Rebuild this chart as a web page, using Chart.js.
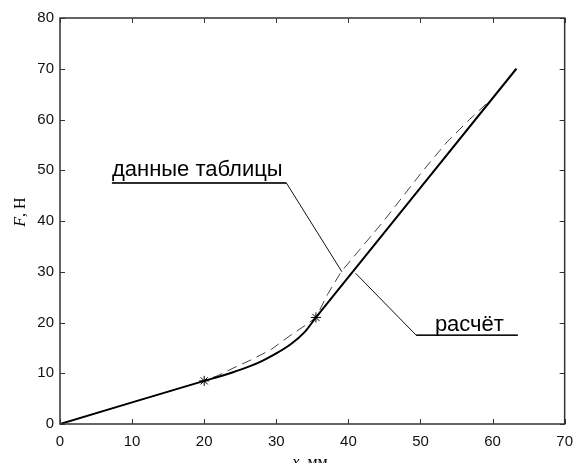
<!DOCTYPE html>
<html>
<head>
<meta charset="utf-8">
<script src="https://cdn.jsdelivr.net/npm/chart.js@4.4.0/dist/chart.umd.min.js"></script>
<style>
  html, body { margin: 0; padding: 0; background: #fff; }
  #wrap { width: 582px; height: 463px; position: relative; }
</style>
</head>
<body>
<div id="wrap"><canvas id="c" width="582" height="463"></canvas></div>
<script>
// ---- data ----
const xTicks = [0, 10, 20, 30, 40, 50, 60, 70];
const yTicks = [0, 10, 20, 30, 40, 50, 60, 70, 80];

// calculation (solid line, "расчёт")
const calcX = [0, 20, 22, 24, 26, 28, 30, 32, 34, 35.5, 63.3];
const calcY = [0, 8.5, 9.3, 10.2, 11.2, 12.4, 13.9, 15.7, 18.2, 21, 70];

// table data (dashed line, "данные таблицы")
const tableX = [0, 20, 22, 24, 26.6, 29.2, 31.8, 34.2, 35.5, 37.1, 39.0, 44.9, 50.4, 53.7, 56.8, 60.2, 63.3];
const tableY = [0, 8.5, 9.6, 11.0, 12.7, 14.6, 17.3, 19.6, 21, 25.5, 30, 40, 50, 55.6, 60, 64.5, 70];

// marked points (asterisks)
const markX = [20, 35.5];
const markY = [8.5, 21];

// annotation labels & leader lines (data coordinates)
const labelTable = "данные таблицы";
const labelCalc = "расчёт";
const leaderTable = [[7.2, 47.5], [31.4, 47.5], [39.1, 30.0]];
const leaderCalc = [[41.0, 29.7], [49.4, 17.5], [63.5, 17.5]];
const labelTablePos = [7.2, 48.8];
const labelCalcPos = [52.0, 18.3];

const yTitleItalic = "F";
const yTitleRest = ", Н";
const xTitleItalic = "x";
const xTitleRest = ", мм";

const toPts = (xs, ys) => xs.map((x, i) => ({ x: x, y: ys[i] }));

const framePlugin = {
  id: 'frame',
  afterDraw(chart) {
    const ctx = chart.ctx;
    const a = chart.chartArea;
    const sx = chart.scales.x, sy = chart.scales.y;
    ctx.save();
    // frame
    ctx.strokeStyle = '#333';
    ctx.lineWidth = 1.5;
    ctx.strokeRect(a.left, a.top, a.right - a.left, a.bottom - a.top);
    // inward ticks
    ctx.lineWidth = 1;
    ctx.beginPath();
    const tl = 5;
    xTicks.forEach(v => {
      const p = Math.round(sx.getPixelForValue(v)) + 0.5;
      ctx.moveTo(p, a.bottom); ctx.lineTo(p, a.bottom - tl);
      ctx.moveTo(p, a.top); ctx.lineTo(p, a.top + tl);
    });
    yTicks.forEach(v => {
      const p = Math.round(sy.getPixelForValue(v)) + 0.5;
      ctx.moveTo(a.left, p); ctx.lineTo(a.left + tl, p);
      ctx.moveTo(a.right, p); ctx.lineTo(a.right - tl, p);
    });
    ctx.stroke();

    // leader lines
    const px = pt => [sx.getPixelForValue(pt[0]), sy.getPixelForValue(pt[1])];
    ctx.strokeStyle = '#111';
    ctx.lineWidth = 1;
    [leaderTable, leaderCalc].forEach(path => {
      ctx.beginPath();
      path.forEach((pt, i) => {
        const [x, y] = px(pt);
        if (i === 0) ctx.moveTo(x, y); else ctx.lineTo(x, y);
      });
      ctx.stroke();
    });
    // underlines slightly thicker
    ctx.lineWidth = 1.6;
    ctx.beginPath();
    let p0 = px(leaderTable[0]), p1 = px(leaderTable[1]);
    ctx.moveTo(p0[0], p0[1]); ctx.lineTo(p1[0], p1[1]);
    p0 = px(leaderCalc[1]); p1 = px(leaderCalc[2]);
    ctx.moveTo(p0[0], p0[1]); ctx.lineTo(p1[0], p1[1]);
    ctx.stroke();

    // annotation text
    ctx.fillStyle = '#000';
    ctx.font = '22px "Liberation Sans", Arial, sans-serif';
    ctx.textBaseline = 'alphabetic';
    ctx.textAlign = 'left';
    let t = px(labelTablePos);
    ctx.fillText(labelTable, t[0], t[1]);
    t = px(labelCalcPos);
    ctx.fillText(labelCalc, t[0], t[1]);

    // axis titles
    const fs = 16;
    const fIt = 'italic ' + fs + 'px "Liberation Serif", serif';
    const fRg = fs + 'px "Liberation Serif", serif';
    ctx.save();
    ctx.translate(25, (a.top + a.bottom) / 2 - 9);
    ctx.rotate(-Math.PI / 2);
    ctx.textBaseline = 'alphabetic';
    ctx.font = fIt;
    const w1 = ctx.measureText(yTitleItalic).width;
    ctx.font = fRg;
    const w2 = ctx.measureText(yTitleRest).width;
    let start = -(w1 + w2) / 2;
    ctx.font = fIt;
    ctx.fillText(yTitleItalic, start, 0);
    ctx.font = fRg;
    ctx.fillText(yTitleRest, start + w1, 0);
    ctx.restore();
    // x title
    ctx.font = fIt;
    const xw1 = ctx.measureText(xTitleItalic).width;
    ctx.font = fRg;
    const xw2 = ctx.measureText(xTitleRest).width;
    const cx = 310;
    start = cx - (xw1 + xw2) / 2;
    ctx.textBaseline = 'alphabetic';
    ctx.font = fIt;
    ctx.fillText(xTitleItalic, start, 467);
    ctx.font = fRg;
    ctx.fillText(xTitleRest, start + xw1, 467);
    ctx.restore();
  }
};

new Chart(document.getElementById('c'), {
  type: 'scatter',
  data: {
    datasets: [
      {
        label: 'данные таблицы',
        data: toPts(tableX, tableY),
        showLine: true,
        borderColor: '#444',
        borderWidth: 1,
        borderDash: [10, 6],
        pointRadius: 0,
        tension: 0,
        order: 2
      },
      {
        label: 'расчёт',
        data: toPts(calcX, calcY),
        showLine: true,
        borderColor: '#000',
        borderWidth: 2,
        pointRadius: 0,
        tension: 0.2,
        order: 1
      },
      {
        label: 'точки',
        data: toPts(markX, markY),
        showLine: false,
        pointStyle: 'star',
        pointRadius: 5,
        borderColor: '#000',
        borderWidth: 1,
        backgroundColor: '#000',
        order: 0
      }
    ]
  },
  options: {
    responsive: false,
    animation: false,
    devicePixelRatio: 1,
    layout: { padding: { left: 0, right: 10, top: 18, bottom: 0 } },
    plugins: { legend: { display: false }, tooltip: { enabled: false } },
    scales: {
      x: {
        type: 'linear', min: 0, max: 70,
        afterFit(s) { s.height = 39; },
        afterBuildTicks(s) { s.ticks = xTicks.map(v => ({ value: v })); },
        grid: { display: false, drawTicks: false },
        border: { display: false },
        ticks: { padding: 9, color: '#111', font: { family: '"Liberation Sans", Arial, sans-serif', size: 15 }, maxRotation: 0, autoSkip: false }
      },
      y: {
        type: 'linear', min: 0, max: 80,
        afterFit(s) { s.width = 60; },
        afterBuildTicks(s) { s.ticks = yTicks.map(v => ({ value: v })); },
        grid: { display: false, drawTicks: false },
        border: { display: false },
        ticks: { padding: 6, color: '#111', font: { family: '"Liberation Sans", Arial, sans-serif', size: 15 }, autoSkip: false }
      }
    }
  },
  plugins: [framePlugin]
});
</script>
</body>
</html>
